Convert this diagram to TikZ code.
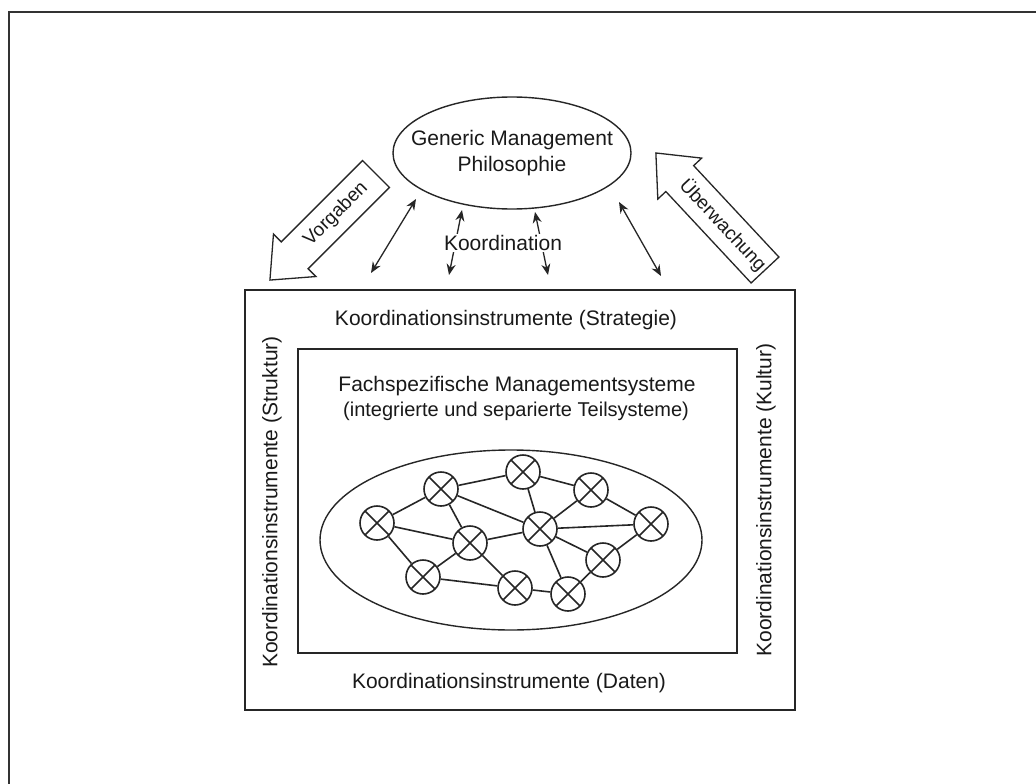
\documentclass[tikz,border=0pt]{standalone}
\usepackage{fontspec}
\setmainfont{Liberation Sans}
\usetikzlibrary{arrows.meta,shapes.geometric}
\begin{document}
\begin{tikzpicture}[x=1pt,y=-1pt,
  lbl/.style={font=\fontsize{21}{26}\selectfont, inner sep=0pt, text=black!90},
  small/.style={font=\fontsize{19}{22}\selectfont, inner sep=0pt, text=black!90},
  box/.style={draw=black!85, line width=1.5pt, inner sep=0pt},
  xnode/.style={circle, draw=black!85, line width=1.6pt, minimum size=34pt, inner sep=0pt, fill=white,
    path picture={\draw[line width=1.6pt, black!85] (path picture bounding box.north west) -- (path picture bounding box.south east)
      (path picture bounding box.south west) -- (path picture bounding box.north east);}},
  link/.style={line width=1.6pt, draw=black!85},
  dbl/.style={{Stealth[length=11pt,width=9pt]}-{Stealth[length=11pt,width=9pt]}, line width=1.3pt, draw=black!85},
  hollow/.style={draw=black!85, line width=1.3pt, fill=white, line join=miter},
]
\useasboundingbox (0,0) rectangle (1036,784);
\fill[white] (0,0) rectangle (1036,784);
% page frame
\draw[line width=2pt, black!80] (9,784) -- (9,12) -- (1036,12);

% top ellipse
\node[ellipse, draw=black!85, line width=1.4pt, minimum width=238pt, minimum height=112pt, inner sep=0pt] (gmp) at (512,153) {};
\node[lbl, align=center] (gmptext) at (gmp.center) {Generic Management\\Philosophie};

% boxes
\node[box, minimum width=550pt, minimum height=420pt] (outer) at (520,500) {};
\node[box, minimum width=439pt, minimum height=304pt] (inner) at (517.5,501) {};
\node[ellipse, draw=black!85, line width=1.4pt, minimum width=382pt, minimum height=180pt, inner sep=0pt] (cloud) at (511,540) {};

% texts
\node[lbl] (strat) at (506,320) {Koordinationsinstrumente (Strategie)};
\node[lbl] (daten) at (509,683) {Koordinationsinstrumente (Daten)};
\node[lbl, rotate=90] (struk) at (272,502) {Koordinationsinstrumente (Struktur)};
\node[lbl, rotate=90] (kult) at (766,500) {Koordinationsinstrumente (Kultur)};
\node[lbl] (fach1) at (517,386) {Fachspezifische Managementsysteme};
\node[lbl, font=\fontsize{20}{24}\selectfont] (fach2) at (516,411) {(integrierte und separierte Teilsysteme)};

% coordination arrows
\coordinate (a1s) at (371,273); \coordinate (a1e) at (416,199);
\coordinate (a2s) at (449,275); \coordinate (a2e) at (462,210);
\coordinate (a3s) at (548,275); \coordinate (a3e) at (535,212);
\coordinate (a4s) at (661,276); \coordinate (a4e) at (619,202);
\draw[dbl] (a1s) -- (a1e);
\draw[dbl] (a2s) -- (a2e);
\draw[dbl] (a3s) -- (a3e);
\draw[dbl] (a4s) -- (a4e);
\node[lbl, fill=white, inner sep=1pt] (koord) at (503,243) {Koordination};

% hollow arrows
\begin{scope}[shift={(376,174)}, rotate=225]
  \draw[hollow] (0,-19) -- (115,-19) -- (115,-30) -- (150,0) -- (115,30) -- (115,19) -- (0,19) -- cycle;
\end{scope}
\node[small, rotate=45] (vorg) at (336,214) {Vorgaben};
\begin{scope}[shift={(765,270)}, rotate=133]
  \draw[hollow] (0,-19) -- (125,-19) -- (125,-30) -- (160,0) -- (125,30) -- (125,19) -- (0,19) -- cycle;
\end{scope}
\node[small, rotate=-47] (ueber) at (723,225) {Überwachung};

% network
\node[xnode] (n1) at (377,523) {};
\node[xnode] (n2) at (441,489) {};
\node[xnode] (n3) at (523,472) {};
\node[xnode] (n4) at (591,490) {};
\node[xnode] (n5) at (651,524) {};
\node[xnode] (n6) at (540,529) {};
\node[xnode] (n7) at (470,543) {};
\node[xnode] (n8) at (423,577) {};
\node[xnode] (n9) at (515,588) {};
\node[xnode] (n10) at (568,594) {};
\node[xnode] (n11) at (603,560) {};
\foreach \a/\b in {n1/n2,n1/n7,n1/n8,n2/n3,n2/n7,n2/n6,n3/n6,n3/n4,n4/n6,n4/n5,n6/n5,n6/n7,n6/n11,n6/n10,n7/n8,n7/n9,n8/n9,n9/n10,n10/n11,n11/n5}
  \draw[link] (\a) -- (\b);
\end{tikzpicture}
\end{document}
